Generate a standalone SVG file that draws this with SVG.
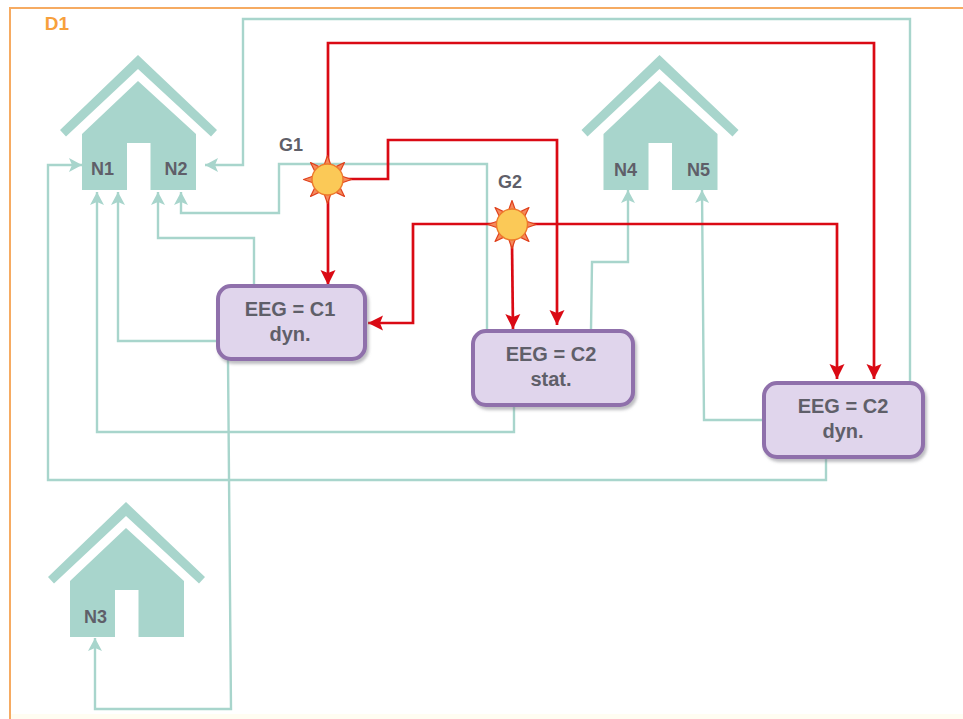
<svg xmlns="http://www.w3.org/2000/svg" xmlns:xlink="http://www.w3.org/1999/xlink" width="963" height="719" viewBox="0 0 963 719">
<style>
.t{font-family:"Liberation Sans",Arial,sans-serif;font-weight:bold;fill:#5f5f69;text-anchor:middle}
.lbl{font-size:18px}
.box{fill:#e0d5ec;stroke:#8f6fab;stroke-width:4;filter:url(#sh)}
.boxt{font-size:20px}
.house{fill:#a8d5cc}
.tl{fill:none;stroke:#a8d5cc;stroke-width:2.4;marker-end:url(#ta)}
.rl{fill:none;stroke:#da0a14;stroke-width:2.7;marker-end:url(#ra)}
.ray{fill:#f58a5c;stroke:#e0401c;stroke-width:1.2;stroke-linejoin:round}
.core{fill:#fbc957;stroke:#ee7a2c;stroke-width:1.4}
</style>
<defs>
<filter id="sh" x="-10%" y="-15%" width="125%" height="140%"><feDropShadow dx="2" dy="3" stdDeviation="1.6" flood-color="#7d7d85" flood-opacity="0.5"/></filter>
<marker id="ta" markerUnits="userSpaceOnUse" markerWidth="16" markerHeight="16" refX="14" refY="8" orient="auto"><path d="M1 1 L14 8 L1 15 L4 8 Z" fill="#a8d5cc"/></marker>
<marker id="ra" markerUnits="userSpaceOnUse" markerWidth="18" markerHeight="18" refX="16" refY="9" orient="auto"><path d="M1 1.500 L16 9 L1 16.500 L4 9 Z" fill="#da0a14"/></marker>
<g id="houseShape">
<path class="house" d="M60 130 L138 55 L217 130 L211 136.500 L138 69 L66 136.500 Z"/>
<path class="house" d="M82 134 L138 81 L196 134 L196 190 L150.500 190 L150.500 143 L127 143 L127 190 L82 190 Z"/>
</g>
<g id="sunShape">
<g class="ray">
<path id="r0" d="M-3.500 -14 L0 -24 L3.500 -14 Z"/>
<use xlink:href="#r0" href="#r0" transform="rotate(45)"/>
<use xlink:href="#r0" href="#r0" transform="rotate(90)"/>
<use xlink:href="#r0" href="#r0" transform="rotate(135)"/>
<use xlink:href="#r0" href="#r0" transform="rotate(180)"/>
<use xlink:href="#r0" href="#r0" transform="rotate(225)"/>
<use xlink:href="#r0" href="#r0" transform="rotate(270)"/>
<use xlink:href="#r0" href="#r0" transform="rotate(315)"/>
</g>
<circle class="core" r="15.500"/>
</g>
</defs>
<rect width="963" height="719" fill="#ffffff"/>
<g id="frame">
<path d="M10 719 L10 8 L963 8" fill="none" stroke="#f6ab62" stroke-width="2"/>
<rect x="11" y="714" width="952" height="5" fill="#fffdf2"/>
<text x="57" y="30" style="font-family:'Liberation Sans',Arial,sans-serif;font-weight:bold;font-size:19px;fill:#f7a03c;text-anchor:middle">D1</text>
</g>
<g id="N1N2">
<use xlink:href="#houseShape" href="#houseShape"/>
<text class="t lbl" x="102.500" y="175">N1</text>
<text class="t lbl" x="176" y="175">N2</text>
</g>
<g id="N4N5">
<use xlink:href="#houseShape" href="#houseShape" transform="translate(521.500,0)"/>
<text class="t lbl" x="625.500" y="176">N4</text>
<text class="t lbl" x="698.500" y="176">N5</text>
</g>
<g id="N3">
<use xlink:href="#houseShape" href="#houseShape" transform="translate(-12,447)"/>
<text class="t lbl" x="95.500" y="623">N3</text>
</g>
<g id="connectors">
<path class="tl" d="M910 381 L910 19 L243 19 L243 165 L205 165"/>
<path class="tl" d="M826 458 L826 480 L48 480 L48 165 L82 165"/>
<path class="tl" d="M487 330 L487 164 L279 164 L279 213 L181 213 L181 192"/>
<path class="tl" d="M254 285 L254 238 L158 238 L158 192"/>
<path class="tl" d="M218 341 L118 341 L118 192"/>
<path class="tl" d="M514 405 L514 432 L97 432 L97 192"/>
<path class="tl" d="M228 360 L231 709 L95 709 L95 638"/>
<path class="tl" d="M591 330 L592 262 L628 262 L628 190"/>
<path class="tl" d="M764 420 L704 420 L702 190"/>
<path class="rl" d="M328 160 L328 43 L874 43 L874 379"/>
<path class="rl" d="M345 179 L388 179 L388 140 L557 140 L557 325"/>
<path class="rl" d="M328 198 L328 285"/>
<path class="rl" d="M494 224 L413 224 L413 323 L368 323"/>
<path class="rl" d="M512 243 L513 329"/>
<path class="rl" d="M530 224 L837 224 L837 379"/>
</g>
<g id="G1">
<use xlink:href="#sunShape" href="#sunShape" transform="translate(327.500,179.500)"/>
<text class="t lbl" x="291" y="151">G1</text>
</g>
<g id="G2">
<use xlink:href="#sunShape" href="#sunShape" transform="translate(512,224.500)"/>
<text class="t lbl" x="510" y="188">G2</text>
</g>
<g id="box1">
<rect class="box" x="218" y="286" width="147" height="73" rx="13"/>
<text class="t boxt" x="290" y="316">EEG = C1</text>
<text class="t boxt" x="290" y="341">dyn.</text>
</g>
<g id="box2">
<rect class="box" x="473" y="331" width="160" height="74" rx="13"/>
<text class="t boxt" x="551" y="361">EEG = C2</text>
<text class="t boxt" x="551" y="386">stat.</text>
</g>
<g id="box3">
<rect class="box" x="764" y="383" width="159" height="74" rx="13"/>
<text class="t boxt" x="843" y="413">EEG = C2</text>
<text class="t boxt" x="843" y="438">dyn.</text>
</g>
</svg>
